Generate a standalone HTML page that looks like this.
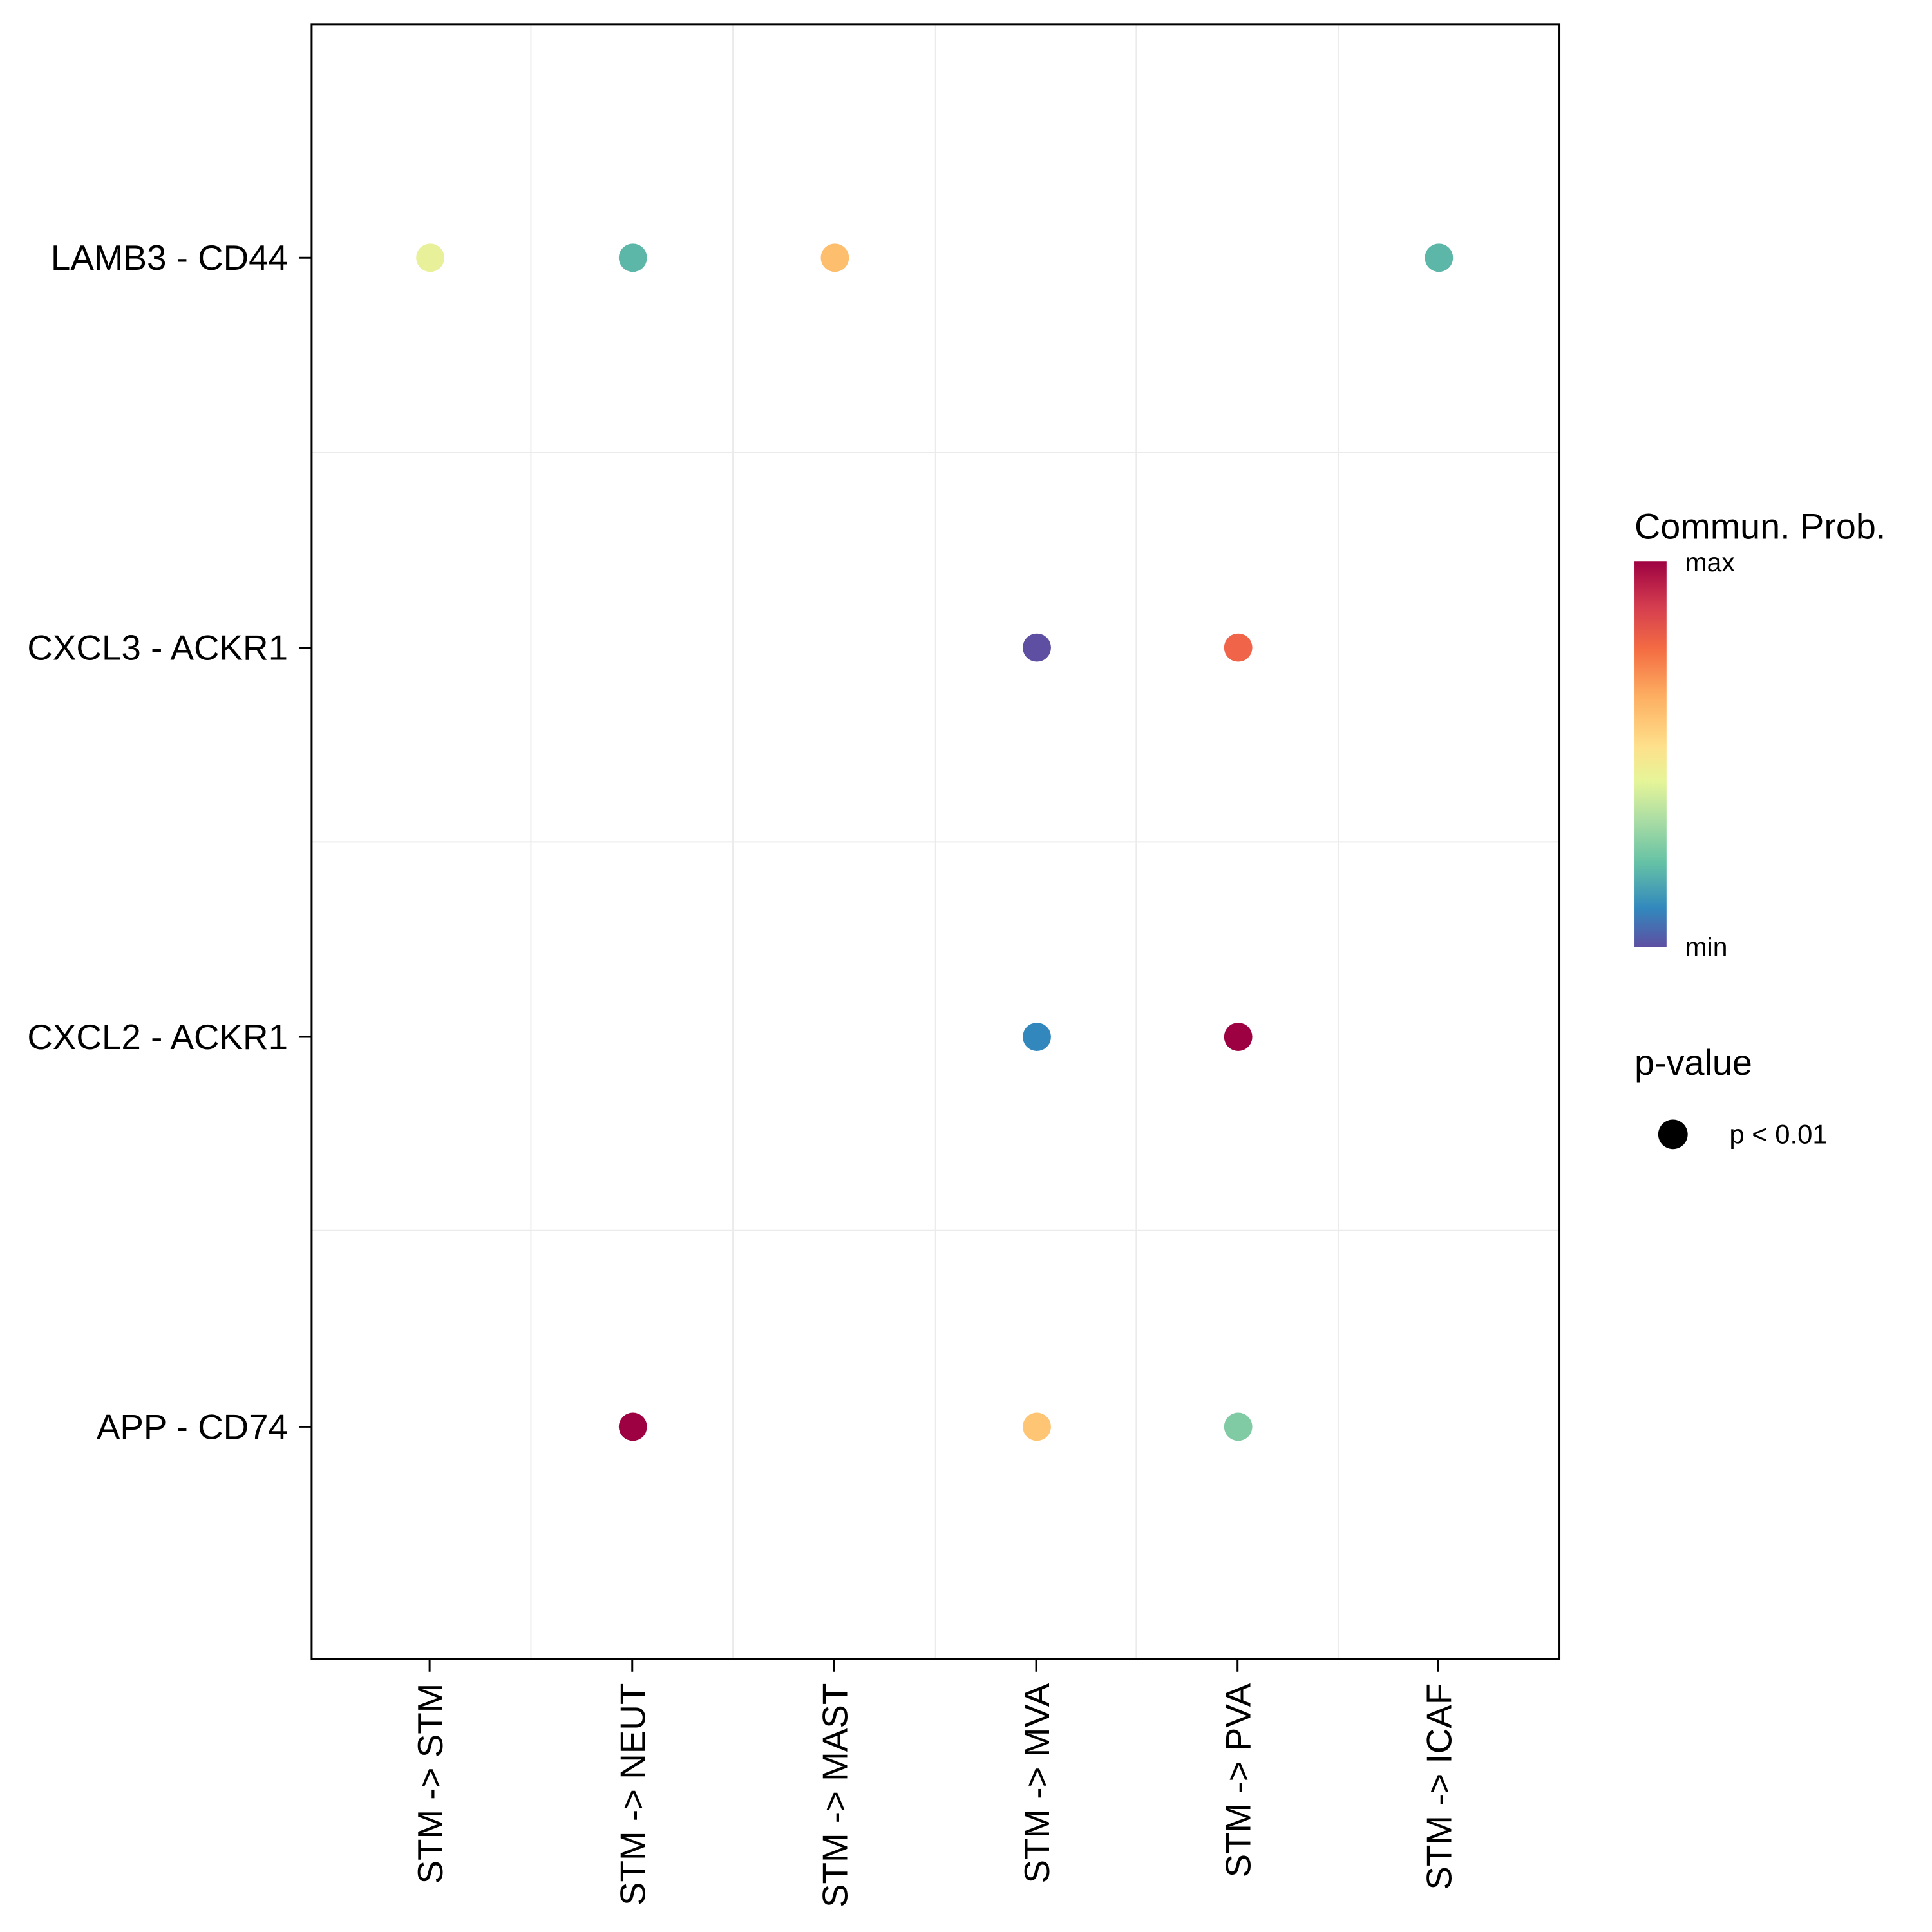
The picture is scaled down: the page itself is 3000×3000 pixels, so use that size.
<!DOCTYPE html>
<html><head><style>body{margin:0;background:#fff}svg{display:block}text{font-family:"Liberation Sans",Arial,sans-serif}</style></head>
<body>
<svg width="3000" height="3000" viewBox="0 0 3000 3000" xmlns="http://www.w3.org/2000/svg">
<defs>
<linearGradient id="sp" x1="0" y1="1" x2="0" y2="0">
<stop offset="0" stop-color="#5E4FA2"/>
<stop offset="0.1" stop-color="#3288BD"/>
<stop offset="0.22" stop-color="#66C2A5"/>
<stop offset="0.33" stop-color="#ABDDA4"/>
<stop offset="0.43" stop-color="#E6F598"/>
<stop offset="0.52" stop-color="#FEE08B"/>
<stop offset="0.65" stop-color="#FDAE61"/>
<stop offset="0.77" stop-color="#F46D43"/>
<stop offset="0.88" stop-color="#D53E4F"/>
<stop offset="1" stop-color="#9E0142"/>
</linearGradient>
</defs>
<rect width="3000" height="3000" fill="#fff"/>
<g transform="translate(-1,0) scale(0.9957)">
<g stroke="#ebebeb" stroke-width="2">
<line x1="829" y1="38" x2="829" y2="2587"/>
<line x1="1144" y1="38" x2="1144" y2="2587"/>
<line x1="1460" y1="38" x2="1460" y2="2587"/>
<line x1="1773" y1="38" x2="1773" y2="2587"/>
<line x1="2088" y1="38" x2="2088" y2="2587"/>
<line x1="487" y1="706" x2="2433" y2="706"/>
<line x1="487" y1="1313" x2="2433" y2="1313"/>
<line x1="487" y1="1919" x2="2433" y2="1919"/>
</g>
<rect x="487" y="38" width="1946" height="2549" fill="none" stroke="#000" stroke-width="3"/>
<g stroke="#000" stroke-width="3">
<line x1="467" y1="402" x2="487" y2="402"/>
<line x1="467" y1="1010" x2="487" y2="1010"/>
<line x1="467" y1="1617" x2="487" y2="1617"/>
<line x1="467" y1="2225" x2="487" y2="2225"/>
<line x1="671" y1="2587" x2="671" y2="2607"/>
<line x1="987" y1="2587" x2="987" y2="2607"/>
<line x1="1302" y1="2587" x2="1302" y2="2607"/>
<line x1="1617" y1="2587" x2="1617" y2="2607"/>
<line x1="1931" y1="2587" x2="1931" y2="2607"/>
<line x1="2244" y1="2587" x2="2244" y2="2607"/>
</g>
<g font-size="55" text-anchor="end" fill="#000">
<text x="450" y="421">LAMB3 - CD44</text>
<text x="450" y="1029">CXCL3 - ACKR1</text>
<text x="450" y="1636">CXCL2 - ACKR1</text>
<text x="450" y="2244">APP - CD74</text>
</g>
<g font-size="55" text-anchor="end" fill="#000">
<text transform="translate(691,2625) rotate(-90)">STM -&gt; STM</text>
<text transform="translate(1007,2625) rotate(-90)">STM -&gt; NEUT</text>
<text transform="translate(1322,2625) rotate(-90)">STM -&gt; MAST</text>
<text transform="translate(1637,2625) rotate(-90)">STM -&gt; MVA</text>
<text transform="translate(1951,2625) rotate(-90)">STM -&gt; PVA</text>
<text transform="translate(2264,2625) rotate(-90)">STM -&gt; ICAF</text>
</g>
<g>
<circle cx="672" cy="402" r="22" fill="#E8F09A"/>
<circle cx="988" cy="402" r="22" fill="#5CB7A8"/>
<circle cx="1303" cy="402" r="22" fill="#FDBE6E"/>
<circle cx="2245" cy="402" r="22" fill="#5CB7A8"/>
<circle cx="1618" cy="1010" r="22" fill="#5E4FA2"/>
<circle cx="1932" cy="1010" r="22" fill="#F0644A"/>
<circle cx="1618" cy="1617" r="22" fill="#3288BD"/>
<circle cx="1932" cy="1617" r="22" fill="#9E0142"/>
<circle cx="988" cy="2225" r="22" fill="#9E0142"/>
<circle cx="1618" cy="2225" r="22" fill="#FDC574"/>
<circle cx="1932" cy="2225" r="22" fill="#80CBA4"/>
</g>
<g transform="translate(12,0)">
<text x="2538" y="840" font-size="56" fill="#000">Commun. Prob.</text>
<rect x="2538" y="875" width="50" height="602" fill="url(#sp)"/>
<text x="2617" y="891" font-size="41" fill="#000">max</text>
<text x="2617" y="1491" font-size="41" fill="#000">min</text>
<text x="2538" y="1676" font-size="56" fill="#000">p-value</text>
<circle cx="2598" cy="1769" r="23" fill="#000"/>
<text x="2686" y="1783" font-size="42" fill="#000">p &lt; 0.01</text>
</g>
</g>
</svg>
</body></html>
